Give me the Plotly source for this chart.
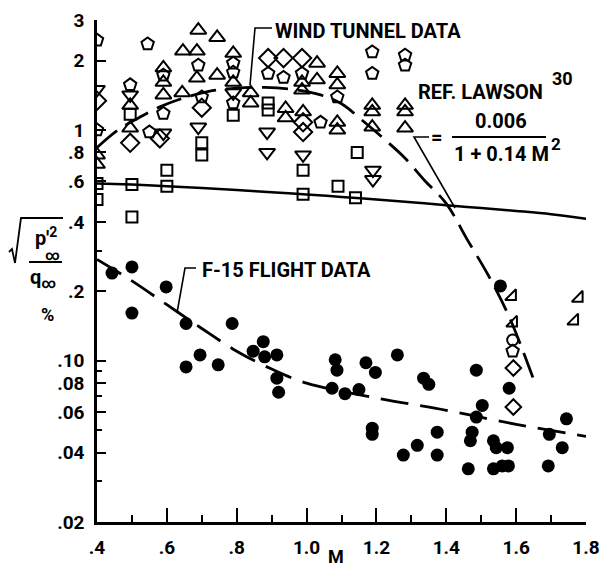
import plotly.graph_objects as go

# ---------------- data ----------------
# Lawson reference curve (solid)
lawson_M = [0.40, 0.50, 0.60, 0.70, 0.80, 0.90, 1.00, 1.10, 1.20, 1.30, 1.40, 1.50, 1.60, 1.70, 1.80]
lawson_v = [0.587, 0.580, 0.571, 0.561, 0.550, 0.538, 0.526, 0.513, 0.500, 0.487, 0.472, 0.459, 0.446, 0.432, 0.413]

# wind tunnel fairing (long dashes)
wt_M = [0.40, 0.46, 0.52, 0.58, 0.65, 0.72, 0.80, 0.88, 0.96, 1.04, 1.10, 1.16, 1.22, 1.28, 1.34, 1.40, 1.46, 1.52, 1.58, 1.65]
wt_v = [0.84, 1.00, 1.13, 1.26, 1.38, 1.47, 1.52, 1.53, 1.50, 1.42, 1.30, 1.10, 0.92, 0.76, 0.60, 0.48, 0.335, 0.235, 0.155, 0.083]

# F-15 flight fairing (dashes)
f15_M = [0.40, 0.50, 0.60, 0.70, 0.80, 0.90, 1.00, 1.20, 1.40, 1.60, 1.80]
f15_v = [0.275, 0.222, 0.175, 0.138, 0.110, 0.092, 0.080, 0.069, 0.061, 0.053, 0.047]

# F-15 flight data (filled circles)
fl_M = [0.443, 0.50, 0.50, 0.598, 0.655, 0.787, 0.695, 0.655, 0.747, 0.876, 0.847, 0.88, 0.915,
        0.915, 0.92, 1.082, 1.087, 1.073, 1.11, 1.15, 1.17, 1.197, 1.26, 1.188, 1.188, 1.277,
        1.317, 1.335, 1.35, 1.374, 1.374, 1.486, 1.503, 1.486, 1.474, 1.469, 1.463, 1.535,
        1.543, 1.575, 1.535, 1.56, 1.578, 1.58, 1.692, 1.695, 1.732, 1.744, 1.555]
fl_v = [0.240, 0.255, 0.161, 0.209, 0.145, 0.145, 0.106, 0.094, 0.096, 0.121, 0.110, 0.104, 0.106,
        0.084, 0.073, 0.101, 0.091, 0.076, 0.072, 0.075, 0.098, 0.089, 0.106, 0.051, 0.048, 0.039,
        0.043, 0.084, 0.079, 0.049, 0.039, 0.091, 0.064, 0.057, 0.049, 0.045, 0.034, 0.045,
        0.042, 0.042, 0.034, 0.035, 0.035, 0.076, 0.035, 0.048, 0.042, 0.056, 0.211]

# wind tunnel data, by symbol
tu_M = [0.40, 0.40, 0.495, 0.495, 0.59, 0.59, 0.59, 0.644, 0.69, 0.646, 0.686, 0.686, 0.744, 0.744,
        0.79, 0.79, 0.84, 0.84, 0.987, 0.987, 0.94, 0.94, 0.99, 1.03, 1.03, 1.088, 1.088, 1.088,
        1.088, 1.188, 1.188, 1.188, 1.282, 1.282, 1.282]
tu_v = [0.78, 0.71, 1.28, 1.02, 1.86, 1.61, 1.42, 1.45, 2.71, 2.20, 2.20, 1.68, 2.52, 1.73,
        2.15, 1.61, 1.45, 1.31, 1.61, 1.49, 1.24, 1.13, 1.20, 1.95, 1.65, 1.76, 1.57, 1.08,
        1.00, 1.28, 1.20, 1.03, 1.28, 1.20, 1.02]

td_M = [0.40, 0.495, 0.59, 0.69, 0.79, 0.887, 0.887, 0.99, 1.19, 1.19]
td_v = [1.50, 1.42, 0.97, 1.03, 1.45, 0.98, 0.80, 0.78, 0.67, 0.61]

di_M = [0.40, 0.495, 0.58, 0.70, 0.89, 0.934, 0.987, 0.99, 0.99]
di_v = [1.34, 0.88, 0.92, 1.25, 2.05, 2.05, 2.05, 1.08, 0.98]

sq_M = [0.40, 0.495, 0.50, 0.60, 0.70, 0.70, 0.79, 0.89, 0.89, 0.99, 1.145, 1.09,
        0.40, 0.50, 0.60, 0.99, 1.14]
sq_v = [0.50, 1.17, 0.42, 0.67, 0.88, 0.78, 1.16, 1.31, 1.22, 0.67, 0.80, 0.57,
        0.587, 0.580, 0.571, 0.527, 0.509]

ho_M = [0.40, 0.40, 0.495, 0.545, 0.55, 0.59, 0.59, 0.69, 0.70, 0.79, 0.79, 0.79, 0.89, 0.934,
        0.987, 1.04, 1.088, 1.188, 1.188, 1.282, 1.282, 1.59]
ho_v = [2.45, 1.00, 1.57, 2.36, 0.98, 1.73, 1.18, 1.91, 1.39, 1.95, 1.78, 1.31, 1.76, 1.69,
        1.76, 1.08, 1.39, 2.18, 1.76, 2.11, 1.91, 0.11]

fg_M = [1.589, 1.592, 1.78, 1.767]
fg_v = [0.190, 0.146, 0.187, 0.149]

ci_M = [1.59]
ci_v = [0.123]

dr_M = [1.592, 1.592]
dr_v = [0.093, 0.063]

x_ticks = [0.4, 0.6, 0.8, 1.0, 1.2, 1.4, 1.6, 1.8]
x_labels = [".4", ".6", ".8", "1.0", "1.2", "1.4", "1.6", "1.8"]
x_minor = [0.5, 0.7, 0.9, 1.1, 1.3, 1.5, 1.7]
y_ticks = [0.02, 0.04, 0.06, 0.08, 0.10, 0.2, 0.4, 0.6, 0.8, 1, 2, 3]
y_labels = [".02", ".04", ".06", ".08", ".10", ".2", ".4", ".6", ".8", "1", "2", "3"]
y_minor = [0.03, 0.05, 0.07, 0.09, 0.3]

# ---------------- figure ----------------
FONT = "Roboto, Liberation Sans, sans-serif"
fig = go.Figure()

fig.add_trace(go.Scatter(x=lawson_M, y=lawson_v, mode="lines", line=dict(color="black", width=2.5, shape="spline"), hoverinfo="skip"))
fig.add_trace(go.Scatter(x=wt_M, y=wt_v, mode="lines", line=dict(color="black", width=2.8, dash="26px,10px", shape="spline"), hoverinfo="skip"))
fig.add_trace(go.Scatter(x=f15_M, y=f15_v, mode="lines", line=dict(color="black", width=2.8, dash="28px,12px", shape="spline"), hoverinfo="skip"))

def open_marks(xs, ys, sym, size):
    fig.add_trace(go.Scatter(x=xs, y=ys, mode="markers",
                             marker=dict(symbol=sym, size=size, color="black",
                                         line=dict(color="black", width=2))))

open_marks(tu_M, tu_v, "triangle-up-open", 14)
open_marks(td_M, td_v, "triangle-down-open", 14)
open_marks(di_M, di_v, "diamond-open", 14)
open_marks(sq_M, sq_v, "square-open", 11)
open_marks(ho_M, ho_v, "pentagon-open", 13)
open_marks(fg_M, fg_v, "triangle-se-open", 12)
open_marks(ci_M, ci_v, "circle-open", 11)
open_marks(dr_M, dr_v, "diamond-open", 12)

fig.add_trace(go.Scatter(x=fl_M, y=fl_v, mode="markers", marker=dict(symbol="circle", size=13, color="black")))

# pixel -> paper helpers (plot area: x 97..586, y 20..522)
L, R, T, B = 97, 18, 20, 46
W, H = 604 - L - R, 568 - T - B
def px(X):
    return (X - L) / W
def py(Y):
    return (568 - B - Y) / H

def text(X, Y, s, size=20, xa="center"):
    fig.add_annotation(x=px(X), y=py(Y), xref="paper", yref="paper", text=s, showarrow=False,
                       xanchor=xa, yanchor="middle", font=dict(family=FONT, size=size, color="black"))

def poly(points, width=1.6):
    d = "M " + " L ".join(f"{px(a):.5f},{py(b):.5f}" for a, b in points)
    fig.add_shape(type="path", path=d, xref="paper", yref="paper", line=dict(color="black", width=width))

# labels
text(368, 31, "<b>WIND TUNNEL DATA</b>")
poly([(272, 28), (255, 28), (250, 85)])
text(480, 92, "<b>REF. LAWSON</b>")
text(562, 78, "<b>30</b>", size=18)
text(436, 137, "<b>=</b>", size=20)
text(501, 121, "<b>0.006</b>")
poly([(452, 137), (546, 137)], width=1.8)
text(501, 154, "<b>1 + 0.14 M</b>")
text(556, 144, "<b>2</b>", size=17)
poly([(429, 137), (414, 137), (455, 208)])
text(286, 270, "<b>F-15 FLIGHT DATA</b>")
poly([(196, 268), (185, 268), (177, 313)])
text(336, 556, "<b>M</b>", size=18)

# y-axis title built from pieces
poly([(9, 252), (12, 249), (15, 263), (21, 218), (63, 218)], width=1.8)
text(46, 237, "<b>p'<sup>2</sup></b>", size=20)
text(52, 255, "<b>∞</b>", size=14)
poly([(29, 262), (62, 262)], width=1.8)
text(43, 278, "<b>q<sub>∞</sub></b>", size=20)
text(47, 315, "<b>%</b>", size=18)

fig.update_layout(
    width=604, height=568, showlegend=False,
    margin=dict(l=L, r=R, t=T, b=B, autoexpand=False),
    paper_bgcolor="white", plot_bgcolor="white",
    font=dict(family=FONT, size=20, color="black"),
    xaxis=dict(range=[0.4, 1.8], tickvals=x_ticks, ticktext=[f"<b>{t}</b>" for t in x_labels],
               ticks="inside", ticklen=14, tickwidth=2, tickcolor="black", ticklabelstandoff=6,
               minor=dict(tickvals=x_minor, ticks="inside", ticklen=7, tickwidth=2, tickcolor="black"),
               showline=True, linecolor="black", linewidth=2.5, showgrid=False, zeroline=False,
               automargin=False, tickfont=dict(size=19)),
    yaxis=dict(type="log", range=[-1.699, 0.477], tickvals=y_ticks,
               ticktext=[f"<b>{t}</b>" for t in y_labels],
               ticks="inside", ticklen=9, tickwidth=2, tickcolor="black", ticklabelstandoff=6,
               minor=dict(tickvals=y_minor, ticks="inside", ticklen=5, tickwidth=2, tickcolor="black"),
               showline=True, linecolor="black", linewidth=2.5, showgrid=False, zeroline=False,
               automargin=False, tickfont=dict(size=19)),
)

fig.write_html("out.html", config={"displayModeBar": False},
               post_script="document.body.style.margin='0px';document.body.style.padding='0px';")
